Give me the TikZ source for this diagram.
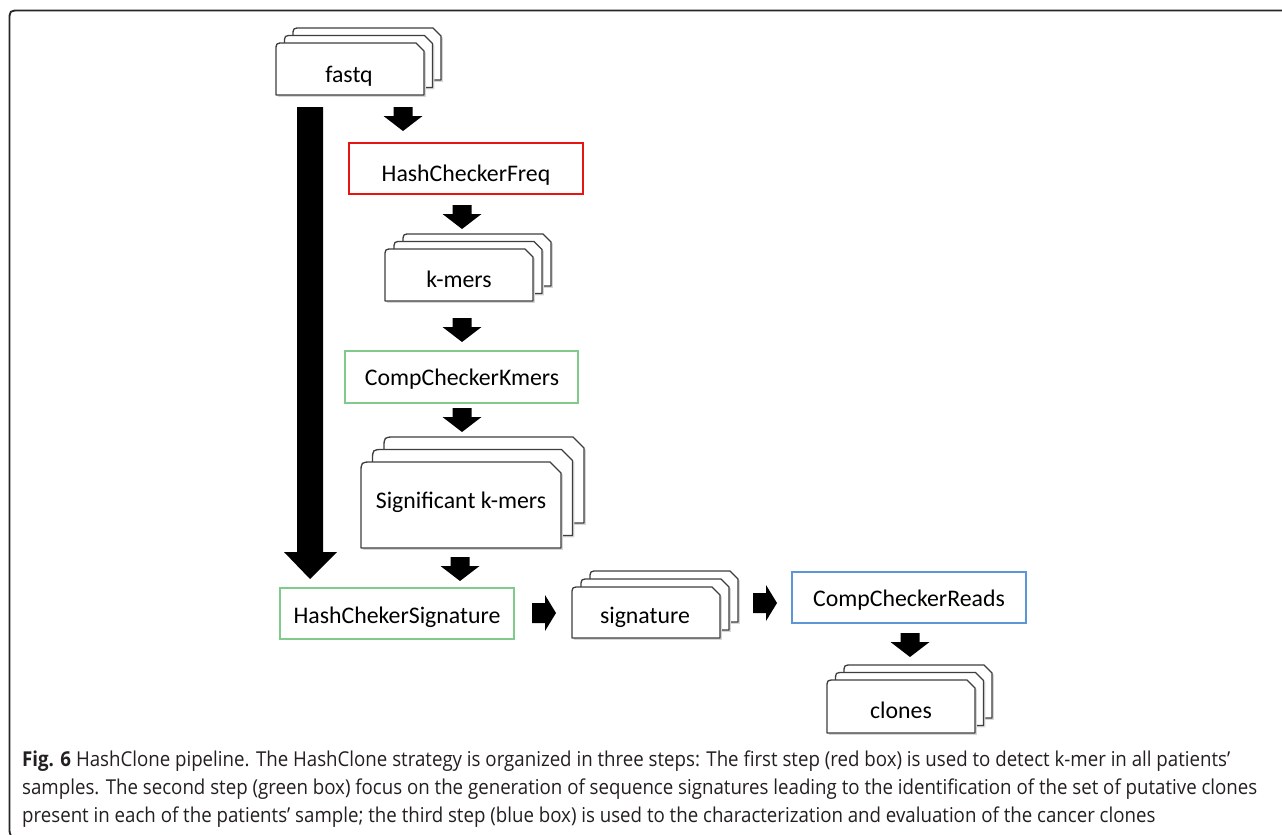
\documentclass[tikz,border=0pt]{standalone}
\usepackage{fontspec}
\usepackage{graphicx}
\setmainfont{Carlito}
\newfontfamily\capfont{Open Sans}
\usetikzlibrary{calc}
\definecolor{redbox}{RGB}{232,20,20}
\definecolor{greenbox}{RGB}{128,202,140}
\definecolor{bluebox}{RGB}{92,150,215}
\definecolor{sheetline}{RGB}{62,62,62}
\definecolor{captext}{RGB}{35,31,32}
\newsavebox\capboxA
\newcommand\sheet[5]{%
  \fill[black!16, shift={(1.8,1.8)}] (#1,#4) -- (#1,#2+#5) .. controls (#1,#2) .. (#1+#5,#2) -- (#3-#5,#2) -- (#3,#2+#5) -- (#3,#4) -- cycle;
  \filldraw[fill=white, draw=sheetline, line width=1.3pt, line join=round] (#1,#4) -- (#1,#2+#5) .. controls (#1,#2) .. (#1+#5,#2) -- (#3-#5,#2) -- (#3,#2+#5) -- (#3,#4) -- cycle;}
\newcommand\pagestack[7]{%
  \sheet{#1+2*#5}{#2-2*#6}{#3+2*#5}{#4-2*#6}{#7}
  \sheet{#1+#5}{#2-#6}{#3+#5}{#4-#6}{#7}
  \sheet{#1}{#2}{#3}{#4}{#7}}
\newcommand\capsize{\capfont\fontsize{20.5}{24}\selectfont}
\newcommand\firstcapline[1]{%
  \sbox\capboxA{\capsize #1}%
  \pgfmathsetmacro\tmpscale{1208/\wd\capboxA}%
  \xdef\capscale{\tmpscale}%
  \scalebox{\capscale}[1]{\usebox\capboxA}}
\newcommand\capline[1]{\scalebox{\capscale}[1]{\capsize #1}}
\begin{document}
\begin{tikzpicture}[x=1pt,y=-1pt,
  lbl/.style={inner sep=0pt, anchor=base, font=\fontsize{23.8}{28}\selectfont},
  procbox/.style={draw, inner sep=0pt, line width=#1, fill=white},
  capl/.style={inner sep=0pt, anchor=base west, text=captext},
  downarr/.pic={\fill (-9.5,0) -- (9.5,0) -- (9.5,9) -- (19.5,9) -- (0,24) -- (-19.5,9) -- (-9.5,9) -- cycle;},
  rightarr/.pic={\fill (0,-10) -- (13,-10) -- (13,-18) -- (24,0) -- (13,18) -- (13,10) -- (0,10) -- cycle;}]
\useasboundingbox (0,0) rectangle (1282,835);
% frame
\draw[line width=1.8pt, black!85] (1300,10.5) -- (20,10.5) .. controls (9.5,10.5) .. (9.5,21) -- (9.5,826) .. controls (9.5,837) .. (20,837);
% stacks
\pagestack{276}{43}{424}{95}{8.5}{7.5}{8}
\node[lbl] (fastq) at (349,82) {fastq};
\pagestack{385}{249}{533}{301}{9}{7.5}{8}
\node[lbl] (kmers) at (459,287) {k-mers};
\pagestack{361}{462}{561}{548}{11.5}{12.5}{11}
\node[lbl] (sigk) at (461,508) {Significant k-mers};
\pagestack{572}{587}{720}{638}{9}{8}{8}
\node[lbl] (sig) at (645,623) {signature};
\pagestack{827}{680}{975}{733}{8.5}{7.5}{8}
\node[lbl] (clones) at (901,718) {clones};
% process boxes
\node[procbox=2.2pt, draw=redbox, minimum width=234pt, minimum height=51pt] (freqbox) at (466,168.5) {};
\node[lbl] (freq) at (466,181) {HashCheckerFreq};
\node[procbox=1.5pt, draw=greenbox, minimum width=233pt, minimum height=52pt] (ckbox) at (461.5,377) {};
\node[lbl] (ck) at (462,385) {CompCheckerKmers};
\node[procbox=1.5pt, draw=greenbox, minimum width=234pt, minimum height=51pt] (hcsbox) at (397,613.5) {};
\node[lbl] (hcs) at (397,623) {HashChekerSignature};
\node[procbox=2pt, draw=bluebox, minimum width=234pt, minimum height=51pt] (ccrbox) at (909,597.5) {};
\node[lbl] (ccr) at (909,606) {CompCheckerReads};
% block arrows
\coordinate (a1) at (403,107);
\coordinate (a2) at (462,205);
\coordinate (a3) at (462,318);
\coordinate (a4) at (462,408);
\coordinate (a5) at (460,557);
\coordinate (a6) at (910,633);
\coordinate (r1) at (532,613);
\coordinate (r2) at (753,603);
\pic at (a1) {downarr};
\pic at (a2) {downarr};
\pic at (a3) {downarr};
\pic at (a4) {downarr};
\pic at (a5) {downarr};
\pic at (a6) {downarr};
\pic at (r1) {rightarr};
\pic at (r2) {rightarr};
% big arrow
\coordinate (bigstart) at (310,107);
\coordinate (bigend) at (310,579);
\fill ($(bigstart)+(-13,0)$) -- ($(bigstart)+(13,0)$) -- ($(bigend)+(13,-27)$) -- ($(bigend)+(27,-27)$) -- (bigend) -- ($(bigend)+(-26,-27)$) -- ($(bigend)+(-13,-27)$) -- cycle;
% caption
\node[capl] (cap1) at (22,766) {\firstcapline{\textbf{Fig. 6} HashClone pipeline. The HashClone strategy is organized in three steps: The first step (red box) is used to detect k-mer in all patients’}};
\node[capl] (cap2) at (22,794) {\capline{samples. The second step (green box) focus on the generation of sequence signatures leading to the identification of the set of putative clones}};
\node[capl] (cap3) at (22,822) {\capline{present in each of the patients’ sample; the third step (blue box) is used to the characterization and evaluation of the cancer clones}};
\end{tikzpicture}
\end{document}
